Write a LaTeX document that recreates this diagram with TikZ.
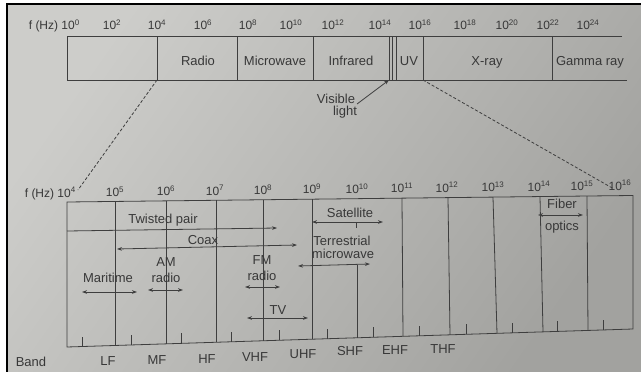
\documentclass[tikz,border=0pt]{standalone}
\usepackage{fontspec}
\setmainfont{Liberation Sans}
\usetikzlibrary{arrows.meta}
\definecolor{linec}{HTML}{3E3E3E}
\definecolor{txtc}{HTML}{383838}
\definecolor{bgul}{HTML}{CDCDCA}
\definecolor{bglr}{HTML}{A2A29F}
\begin{document}
\begin{tikzpicture}[x=1pt,y=-1pt,
  declare function={yt(\x)=202-0.0115*(\x-67); yb(\x)=347-0.0318*(\x-67); bl(\x)=197-0.0124*(\x-67);},
  ln/.style={draw=linec, line width=0.8pt},
  arr/.style={ln, {Stealth[length=5pt,width=3.6pt]}-{Stealth[length=5pt,width=3.6pt]}},
  rarr/.style={ln, -{Stealth[length=5pt,width=3.6pt]}},
  dsh/.style={ln, dash pattern=on 3pt off 2pt},
  lbl/.style={text=txtc, font=\fontsize{13}{15}\selectfont, inner sep=0pt, anchor=base},
  frq/.style={text=txtc, font=\fontsize{12}{14}\selectfont, inner sep=0pt, anchor=base},
]
\useasboundingbox (0,0) rectangle (641,372);
\fill[white] (0,0) rectangle (641,372);
\shade[top color=bgul, bottom color=bglr, shading angle=55] (7,4) rectangle (641,372);
\draw[black, line width=1.6pt] (7,372) -- (7,4) -- (641,4);

% ---- top spectrum band ----
\draw[ln] (622,36) -- (67,36) -- (67,80) -- (627,80);
\foreach \x in {157,237,313,389,392,396,423,552}
  \draw[ln] (\x,36) -- (\x,80);
\node[frq, anchor=base east] (tf0) at (80,29.5) {f (Hz) 10\textsuperscript{0}};
\foreach \x/\e in {112/2,157/4,203/6,248/8,291/10,333/12,380/14,420/16,465/18,507/20,548/22,588/24}
  \node[frq] (tf\e) at (\x,29.5) {10\textsuperscript{\e}};
\node[lbl] (radio) at (198,65) {Radio};
\node[lbl] (micro) at (275,65) {Microwave};
\node[lbl] (infra) at (351,65) {Infrared};
\node[lbl] (uv) at (409,65) {UV};
\node[lbl] (xray) at (487,65) {X-ray};
\node[lbl] (gamma) at (590,65) {Gamma ray};
\node[lbl] (vis1) at (336,103) {Visible};
\node[lbl] (vis2) at (345,115) {light};
\coordinate (visA) at (357,104);
\coordinate (visB) at (389,80);
\draw[rarr] (visA) -- (visB);

% ---- zoom dashed lines ----
\coordinate (zl1) at (157,80);
\coordinate (zl2) at (78,190);
\coordinate (zr1) at (423,80);
\coordinate (zr2) at (614,189);
\draw[dsh] (zl1) -- (zl2);
\draw[dsh] (zr1) -- (zr2);

% ---- lower box ----
\draw[ln] (67,{yt(67)}) -- (633,{yt(633)}) -- (633,{yb(633)}) -- (67,{yb(67)}) -- cycle;
\foreach \a/\b in {115/115,166/166,216/216,263/263,312/312,402/403,448/450,493/497,540/543,587/588}
  \draw[ln] (\a,{yt(\a)}) -- (\b,{yb(\b)});
\draw[ln] (357,265) -- (357,{yb(357)});
\foreach \x in {82,131,181,231,279,327,373,419,466,512,557,603}
  \draw[ln] (\x,{yb(\x)}) -- (\x,{yb(\x)-10});

\node[frq, anchor=base east] (lf4) at (76,{bl(67)}) {f (Hz) 10\textsuperscript{4}};
\foreach \x/\e in {115/5,166/6,215/7,263/8,312/9,357/10,402/11,447/12,493/13,539/14,582/15,620/16}
  \node[frq] (lf\e) at (\x,{bl(\x)}) {10\textsuperscript{\e}};

% media labels and ranges
\node[lbl] (tp) at (163,223) {Twisted pair};
\draw[rarr] (67,231) -- (277,228);
\node[lbl] (coax) at (203,244) {Coax};
\draw[arr] (117,249) -- (297,245);
\node[lbl] (sat) at (350,217) {Satellite};
\draw[arr] (312,222) -- (383,222);
\draw[ln] (356,222) -- (356,228);
\node[lbl] (ter1) at (342,245) {Terrestrial};
\node[lbl] (ter2) at (343,258) {microwave};
\draw[arr] (298,266) -- (370,264);
\node[lbl] (mar) at (108,282) {Maritime};
\draw[arr] (82,292) -- (137,292);
\node[lbl] (am1) at (166,266) {AM};
\node[lbl] (am2) at (166,282) {radio};
\draw[arr] (148,290) -- (183,290);
\node[lbl] (fm1) at (262,264) {FM};
\node[lbl] (fm2) at (262,280) {radio};
\draw[arr] (245,287) -- (280,287);
\node[lbl] (tv) at (278,314) {TV};
\draw[arr] (247,318) -- (308,318);
\node[lbl] (fib1) at (562,208) {Fiber};
\node[lbl] (fib2) at (562,230) {optics};
\draw[arr] (538,215) -- (583,215);

% band names
\node[lbl] (band) at (31,366) {Band};
\node[lbl] (bLF) at (108,365) {LF};
\node[lbl] (bMF) at (157,364) {MF};
\node[lbl] (bHF) at (207,363) {HF};
\node[lbl] (bVHF) at (255,361) {VHF};
\node[lbl] (bUHF) at (303,358) {UHF};
\node[lbl] (bSHF) at (350,355) {SHF};
\node[lbl] (bEHF) at (395,354) {EHF};
\node[lbl] (bTHF) at (443,353) {THF};
\end{tikzpicture}
\end{document}
